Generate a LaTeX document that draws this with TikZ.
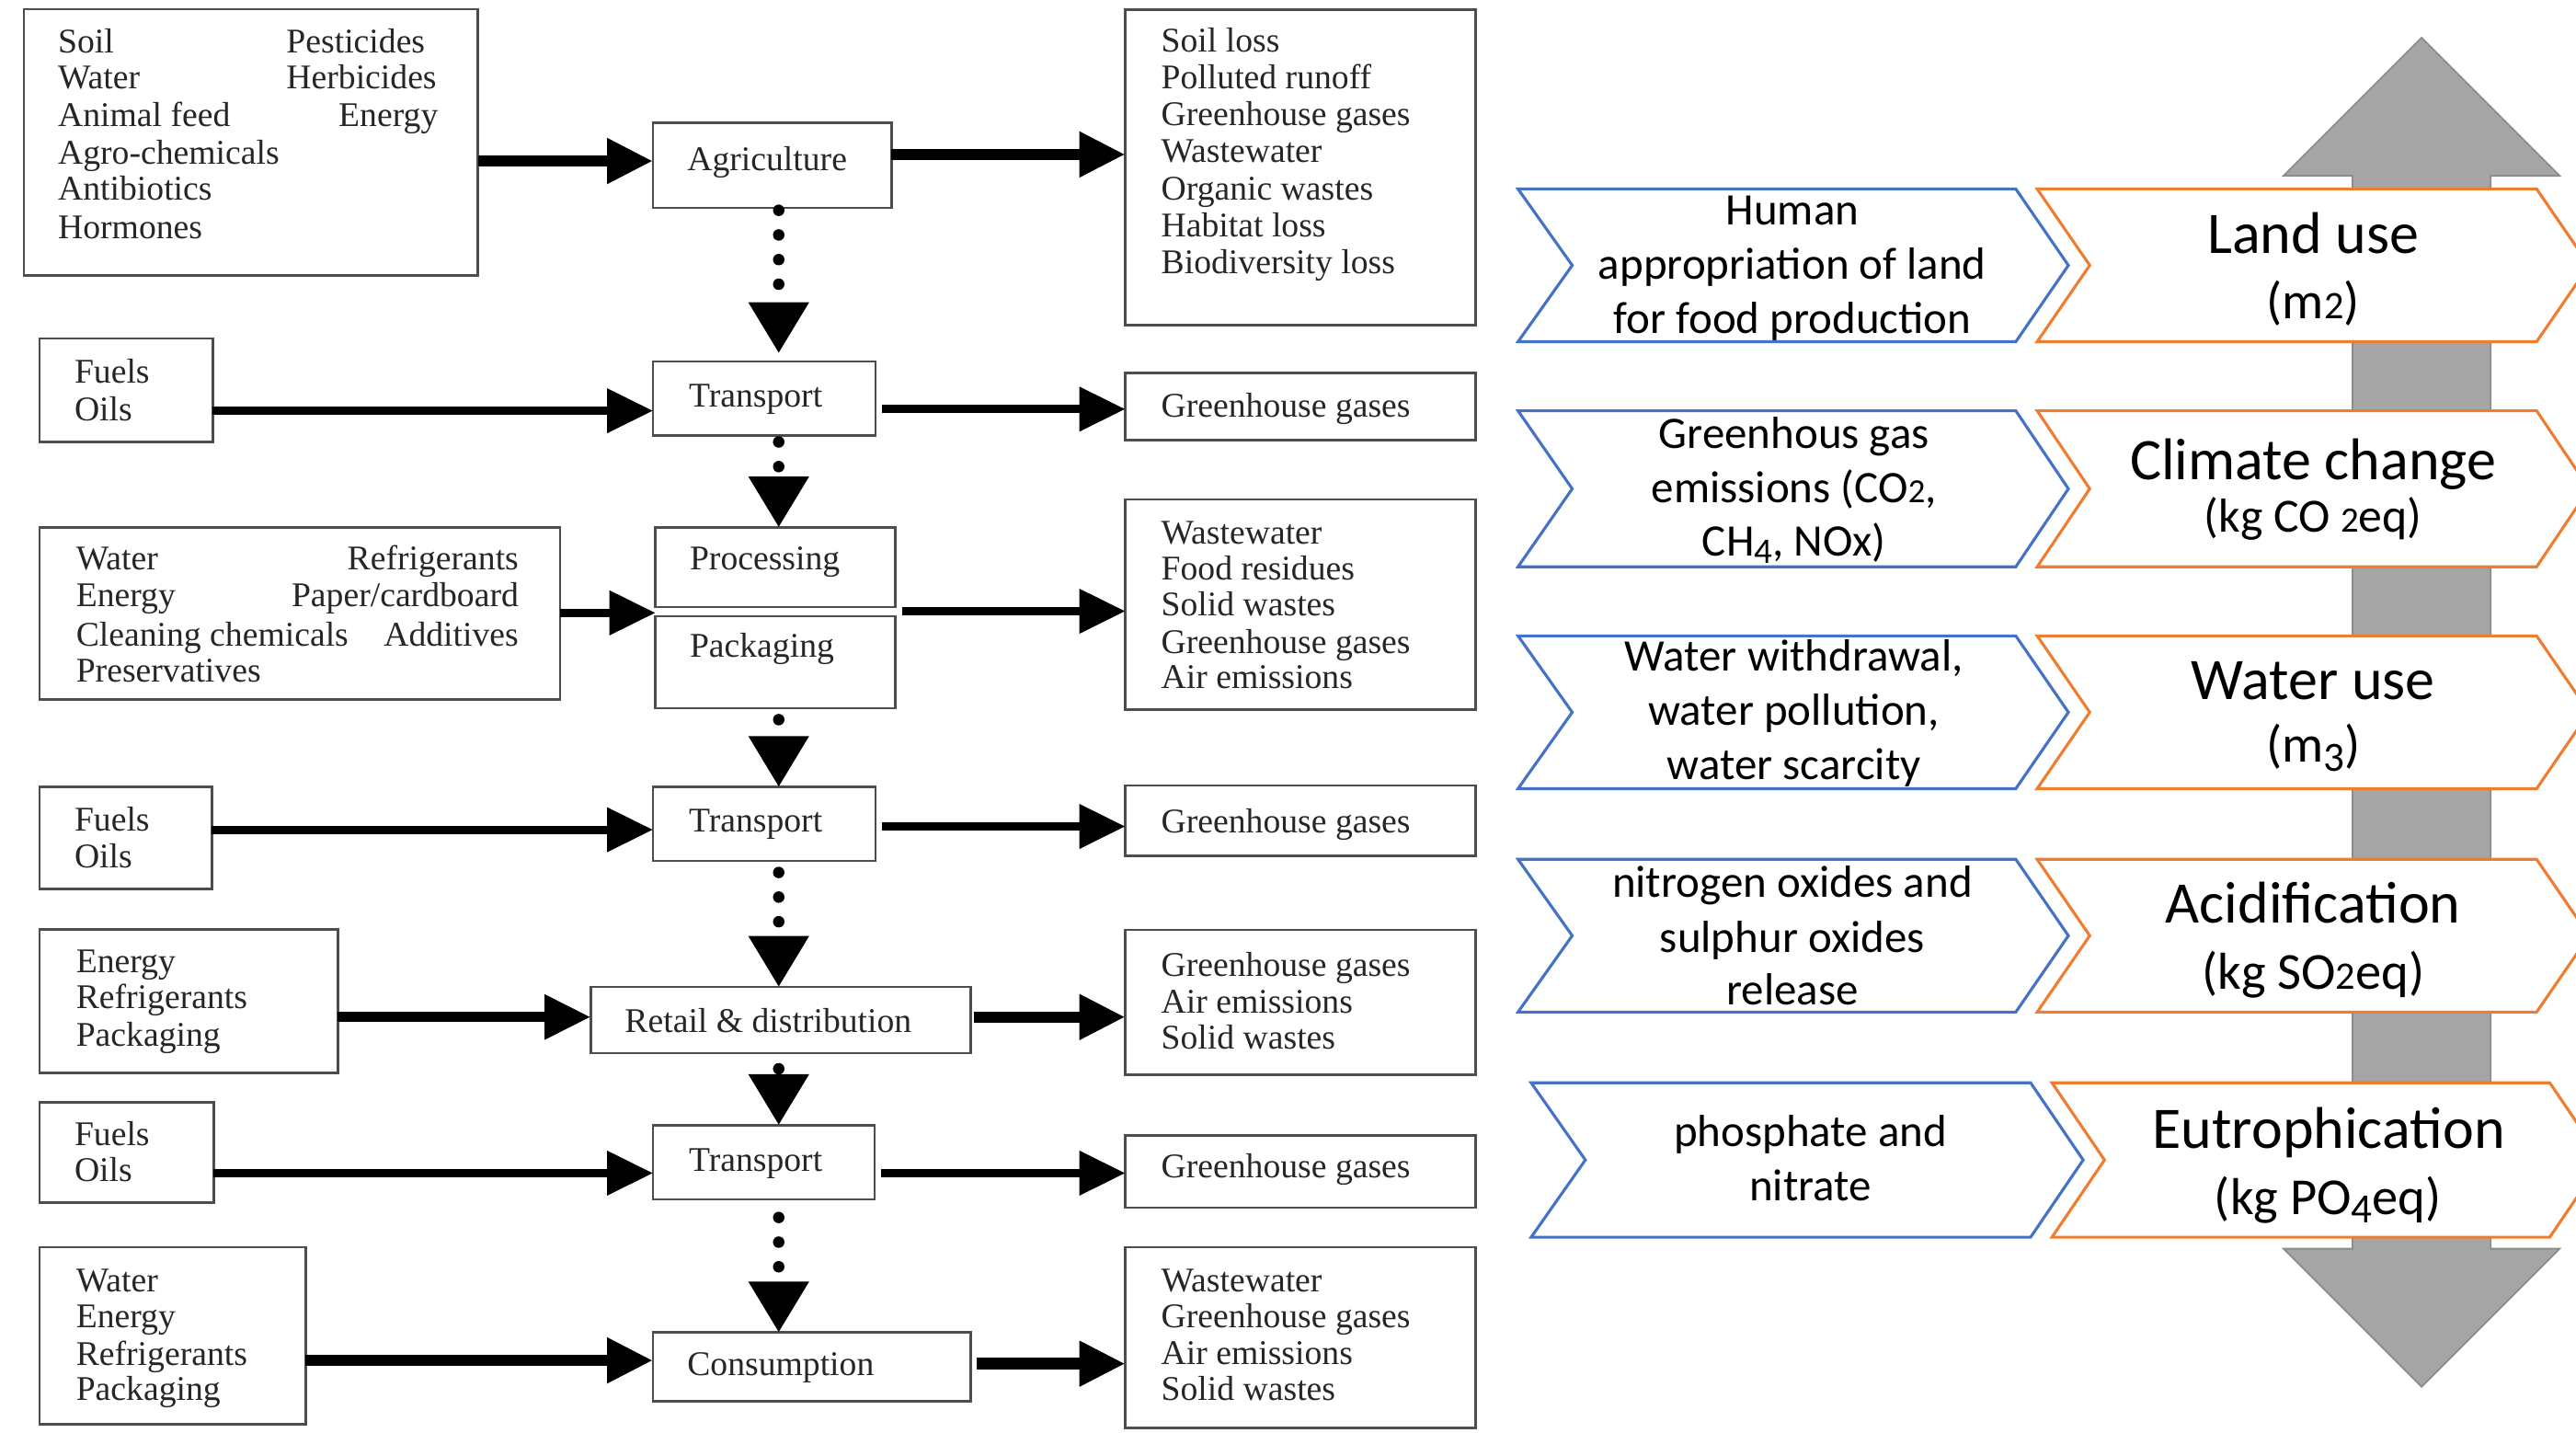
\documentclass[tikz,border=0pt]{standalone}
\usepackage{fontspec}
\usepackage{graphicx}
\setmainfont{Liberation Serif}
\newfontfamily\calib{Carlito}
\usetikzlibrary{arrows.meta}
\definecolor{cblue}{HTML}{4472C4}
\definecolor{corange}{HTML}{ED7D31}
\definecolor{cgray}{HTML}{A5A5A5}
\definecolor{boxline}{HTML}{4D4D4D}
\newcommand\osfsmall[1]{\scalebox{0.75}{#1}}
\newcommand\osfdesc[1]{\raisebox{-0.17em}{\scalebox{0.8}{#1}}}
\newcommand\mkbox[5]{\node[flowbox, minimum width={(#4-#2)*0.2mm}, minimum height={(#5-#3)*0.2mm}] (#1) at (#2,#3) {};}
\newcommand\chev[7]{\draw[draw=#7, line width=0.35mm, fill=white, line join=miter] (#1,#5) -- (#3,#5) -- (#4,{(#5+#6)/2}) -- (#3,#6) -- (#1,#6) -- (#2,{(#5+#6)/2}) -- cycle;}
\begin{document}
\begin{tikzpicture}[x=0.2mm,y=-0.2mm,
  flowbox/.style={draw=boxline, line width=0.3mm, inner sep=0pt, outer sep=0pt, anchor=north west},
  ltxt/.style={anchor=base west, inner sep=0pt, text=black!85, font=\fontsize{12}{14}\selectfont},
  rtxt/.style={ltxt, anchor=base east},
  harr/.style={-{Triangle[length=5.6mm,width=5.2mm]}, line width=1mm, draw=black},
  harrb/.style={harr, line width=1.4mm},
  varr/.style={-{Triangle[length=6.2mm,width=7mm]}, line width=1.4mm, line cap=round, dash pattern=on 0pt off 3mm},
  btxt/.style={anchor=base, inner sep=0pt, font=\calib\fontsize{15.6}{18}\selectfont},
  otitle/.style={anchor=base, inner sep=0pt, font=\calib\fontsize{20.4}{24}\selectfont},
  ounit/.style={anchor=base, inner sep=0pt, font=\calib\fontsize{18}{22}\selectfont},
]
\fill[white] (0,0) rectangle (1568,872);
\useasboundingbox (0,0) rectangle (1568,872);

% ---------- input boxes ----------
\mkbox{in1}{14.5}{5.6}{291}{167.5}
\mkbox{in2}{24}{206}{129.5}{269}
\mkbox{in3}{24}{321}{341}{425.6}
\mkbox{in4}{24}{479}{129}{541}
\mkbox{in5}{24}{565.5}{205.6}{653}
\mkbox{in6}{24}{671}{130}{732}
\mkbox{in7}{24}{759}{186}{867}

% ---------- process boxes ----------
\mkbox{agr}{397.5}{74.6}{542.6}{126.5}
\mkbox{tr1}{397.5}{220}{533}{265}
\mkbox{proc}{399}{321}{545}{369.5}
\mkbox{pack}{399}{375}{545}{431}
\mkbox{tr2}{397.5}{479}{533}{524}
\mkbox{ret}{359.5}{600.7}{590.7}{641}
\mkbox{tr3}{397.5}{684.8}{532.3}{730}
\mkbox{cons}{397.5}{811}{590.7}{853}

% ---------- output boxes ----------
\mkbox{out1}{685}{6}{898}{198}
\mkbox{out2}{685}{227}{898}{268}
\mkbox{out3}{685}{304}{898}{432}
\mkbox{out4}{685}{478}{898}{521}
\mkbox{out5}{685}{566}{898}{654}
\mkbox{out6}{685}{691}{898}{735}
\mkbox{out7}{685}{759}{898}{869}

% ---------- input texts ----------
\node[ltxt] (t1a) at (35,32) {Soil};
\node[ltxt] (t1b) at (35,54) {Water};
\node[ltxt] (t1c) at (35,77) {Animal feed};
\node[ltxt] (t1d) at (35,100) {Agro-chemicals};
\node[ltxt] (t1e) at (35,122) {Antibiotics};
\node[ltxt] (t1f) at (35,145) {Hormones};
\node[ltxt] (t1g) at (174,32) {Pesticides};
\node[ltxt] (t1h) at (174,54) {Herbicides};
\node[rtxt] (t1i) at (267,77) {Energy};

\node[ltxt] (t2a) at (45,233) {Fuels};
\node[ltxt] (t2b) at (45,256) {Oils};

\node[ltxt] (t3a) at (46,347) {Water};
\node[ltxt] (t3b) at (46,369) {Energy};
\node[ltxt] (t3c) at (46,393) {Cleaning chemicals};
\node[ltxt] (t3d) at (46,415) {Preservatives};
\node[rtxt] (t3e) at (316,347) {Refrigerants};
\node[rtxt] (t3f) at (316,369) {Paper/cardboard};
\node[rtxt] (t3g) at (316,393) {Additives};

\node[ltxt] (t4a) at (45,506) {Fuels};
\node[ltxt] (t4b) at (45,528) {Oils};

\node[ltxt] (t5a) at (46,592) {Energy};
\node[ltxt] (t5b) at (46,614) {Refrigerants};
\node[ltxt] (t5c) at (46,637) {Packaging};

\node[ltxt] (t6a) at (45,697.5) {Fuels};
\node[ltxt] (t6b) at (45,719) {Oils};

\node[ltxt] (t7a) at (46,786) {Water};
\node[ltxt] (t7b) at (46,808) {Energy};
\node[ltxt] (t7c) at (46,831) {Refrigerants};
\node[ltxt] (t7d) at (46,852.5) {Packaging};

% ---------- process texts ----------
\node[ltxt] (pagr) at (418,103.6) {Agriculture};
\node[ltxt] (ptr1) at (419,247.5) {Transport};
\node[ltxt] (pproc) at (419.5,347) {Processing};
\node[ltxt] (ppack) at (419.5,400) {Packaging};
\node[ltxt] (ptr2) at (419,506.5) {Transport};
\node[ltxt] (pret) at (380,628.5) {Retail \& distribution};
\node[ltxt] (ptr3) at (419,713) {Transport};
\node[ltxt] (pcons) at (418,837.4) {Consumption};

% ---------- output texts ----------
\node[ltxt] (o1a) at (706.5,31.5) {Soil loss};
\node[ltxt] (o1b) at (706.5,54) {Polluted runoff};
\node[ltxt] (o1c) at (706.5,76.5) {Greenhouse gases};
\node[ltxt] (o1d) at (706.5,99) {Wastewater};
\node[ltxt] (o1e) at (706.5,121.5) {Organic wastes};
\node[ltxt] (o1f) at (706.5,144) {Habitat loss};
\node[ltxt] (o1g) at (706.5,166.5) {Biodiversity loss};
\node[ltxt] (o2a) at (706.5,254) {Greenhouse gases};
\node[ltxt] (o3a) at (706.5,331) {Wastewater};
\node[ltxt] (o3b) at (706.5,353) {Food residues};
\node[ltxt] (o3c) at (706.5,375) {Solid wastes};
\node[ltxt] (o3d) at (706.5,397.5) {Greenhouse gases};
\node[ltxt] (o3e) at (706.5,419) {Air emissions};
\node[ltxt] (o4a) at (706.5,507) {Greenhouse gases};
\node[ltxt] (o5a) at (706.5,594) {Greenhouse gases};
\node[ltxt] (o5b) at (706.5,616.5) {Air emissions};
\node[ltxt] (o5c) at (706.5,638.5) {Solid wastes};
\node[ltxt] (o6a) at (706.5,717) {Greenhouse gases};
\node[ltxt] (o7a) at (706.5,786) {Wastewater};
\node[ltxt] (o7b) at (706.5,808) {Greenhouse gases};
\node[ltxt] (o7c) at (706.5,830.5) {Air emissions};
\node[ltxt] (o7d) at (706.5,852.5) {Solid wastes};

% ---------- horizontal arrows ----------
\coordinate (h1) at (0,98);
\coordinate (h2) at (0,94);
\coordinate (h3) at (0,250);
\coordinate (h4) at (0,249);
\coordinate (h5) at (0,373);
\coordinate (h6) at (0,372);
\coordinate (h7) at (0,505);
\coordinate (h8) at (0,503);
\coordinate (h9) at (0,619);
\coordinate (h10) at (0,714);
\coordinate (h12) at (0,828);
\coordinate (h13) at (0,830);
\draw[harrb] (in1.east |- h1) -- (agr.west |- h1);
\draw[harrb] (agr.east |- h2) -- (out1.west |- h2);
\draw[harr] (in2.east |- h3) -- (tr1.west |- h3);
\draw[harr, shorten <=0.8mm] (tr1.east |- h4) -- (out2.west |- h4);
\draw[harr] (in3.east |- h5) -- (pack.west |- h5);
\draw[harr, shorten <=0.8mm] (pack.east |- h6) -- (out3.west |- h6);
\draw[harr] (in4.east |- h7) -- (tr2.west |- h7);
\draw[harr, shorten <=0.8mm] (tr2.east |- h8) -- (out4.west |- h8);
\draw[harr, line width=1.2mm] (in5.east |- h9) -- (ret.west |- h9);
\draw[harrb, shorten <=0.4mm] (ret.east |- h9) -- (out5.west |- h9);
\draw[harr] (in6.east |- h10) -- (tr3.west |- h10);
\draw[harr, shorten <=0.8mm] (tr3.east |- h10) -- (out6.west |- h10);
\draw[harrb] (in7.east |- h12) -- (cons.west |- h12);
\draw[harrb, shorten <=0.8mm] (cons.east |- h13) -- (out7.west |- h13);

% ---------- vertical dotted arrows ----------
\coordinate (cx) at (474,0);
\draw[varr, shorten <=0.3mm, shorten >=1mm] (agr.south -| cx) -- (tr1.north -| cx);
\draw[varr, shorten <=0.8mm] (tr1.south -| cx) -- (proc.north -| cx);
\draw[varr, shorten <=1.4mm] (pack.south -| cx) -- (tr2.north -| cx);
\draw[varr, shorten <=1.4mm] (tr2.south -| cx) -- (ret.north -| cx);
\draw[varr, shorten <=1.9mm] (ret.south -| cx) -- (tr3.north -| cx);
\draw[varr, shorten <=2.2mm] (tr3.south -| cx) -- (cons.north -| cx);

% ---------- right part: grey double arrow ----------
\draw[fill=cgray, draw=cgray!85!black, line width=0.2mm, line join=miter]
  (1474,23) -- (1558,107) -- (1516,107) -- (1516,760) -- (1558,760) -- (1474,844)
  -- (1390,760) -- (1432,760) -- (1432,107) -- (1390,107) -- cycle;

% ---------- chevrons ----------
\chev{924}{957}{1227}{1259}{115}{208}{cblue}
\chev{1240}{1272}{1544}{1576}{115}{208}{corange}
\chev{924}{957}{1227}{1259}{250}{345}{cblue}
\chev{1240}{1272}{1544}{1576}{250}{345}{corange}
\chev{924}{957}{1227}{1259}{387}{480}{cblue}
\chev{1240}{1272}{1544}{1576}{387}{480}{corange}
\chev{924}{957}{1227}{1259}{523}{616}{cblue}
\chev{1240}{1272}{1544}{1576}{523}{616}{corange}
\chev{932}{965}{1236}{1268}{659}{753}{cblue}
\chev{1249}{1281}{1552}{1584}{659}{753}{corange}

% ---------- chevron texts ----------
\node[btxt] (b1a) at (1091,137) {Human};
\node[btxt] (b1b) at (1091,170) {appropriation of land};
\node[btxt] (b1c) at (1091,203) {for food production};
\node[btxt] (b2a) at (1092,272.8) {Greenhous gas};
\node[btxt] (b2b) at (1092,305.7) {emissions (CO\osfsmall{2},};
\node[btxt] (b2c) at (1092,338.5) {CH\osfdesc{4}, NOx)};
\node[btxt] (b3a) at (1092,408.5) {Water withdrawal,};
\node[btxt] (b3b) at (1092,441.5) {water pollution,};
\node[btxt] (b3c) at (1092,474.5) {water scarcity};
\node[btxt] (b4a) at (1091,546.3) {nitrogen oxides and};
\node[btxt] (b4b) at (1091,579.6) {sulphur oxides};
\node[btxt] (b4c) at (1091,611.6) {release};
\node[btxt] (b5a) at (1102,697.6) {phosphate and};
\node[btxt] (b5b) at (1102,730.9) {nitrate};

\node[otitle] (r1a) at (1408,154) {Land use};
\node[ounit] (r1b) at (1408,194) {(m\osfsmall{2})};
\node[otitle] (r2a) at (1408,292) {Climate change};
\node[ounit, font=\calib\fontsize{16.5}{20}\selectfont] (r2b) at (1408,324) {(kg CO \osfsmall{2}eq)};
\node[otitle] (r3a) at (1408,425.6) {Water use};
\node[ounit] (r3b) at (1408,464) {(m\osfdesc{3})};
\node[otitle] (r4a) at (1408,561.6) {Acidification};
\node[ounit] (r4b) at (1408,602) {(kg SO\osfsmall{2}eq)};
\node[otitle] (r5a) at (1417.5,699) {Eutrophication};
\node[ounit] (r5b) at (1417,739) {(kg PO\osfdesc{4}eq)};
\end{tikzpicture}
\end{document}
